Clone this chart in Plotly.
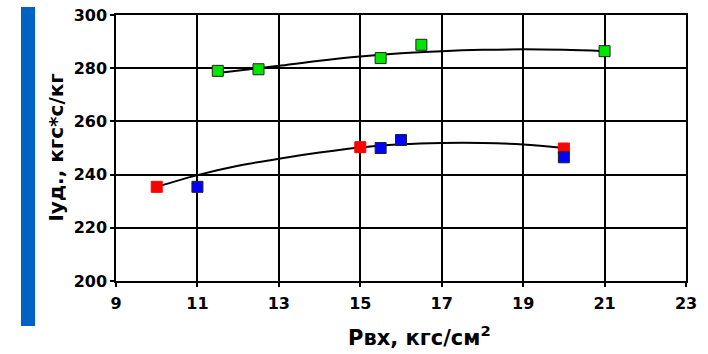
import plotly.graph_objects as go

# Data
green_x = [11.5, 12.5, 15.5, 16.5, 21.0]
green_y = [279.0, 279.6, 283.8, 288.8, 286.4]

red_x = [10.0, 15.0, 20.0]
red_y = [235.4, 250.3, 249.8]

blue_x = [11.0, 15.5, 16.0, 20.0]
blue_y = [235.4, 250.0, 253.0, 246.5]

# Trend curves
trend_low_x = [10, 11, 12, 13, 14, 15, 16, 17, 18, 19, 20]
trend_low_y = [235.4, 239.8, 243.3, 246.0, 248.3, 250.2, 251.4, 251.9, 251.9, 251.3, 250.0]

trend_high_x = [11.5, 12.5, 13, 14, 15, 16, 17, 18, 19, 20, 21]
trend_high_y = [278.2, 280.0, 280.9, 282.8, 284.4, 285.6, 286.4, 286.9, 287.1, 286.9, 286.4]

x_ticks = [9, 11, 13, 15, 17, 19, 21, 23]
y_ticks = [200, 220, 240, 260, 280, 300]

FONT = "DejaVu Sans"

fig = go.Figure()

fig.add_trace(go.Scatter(x=trend_low_x, y=trend_low_y, mode="lines",
                         line=dict(color="black", width=2, shape="spline"),
                         showlegend=False, hoverinfo="skip"))
fig.add_trace(go.Scatter(x=trend_high_x, y=trend_high_y, mode="lines",
                         line=dict(color="black", width=2, shape="spline"),
                         showlegend=False, hoverinfo="skip"))

fig.add_trace(go.Scatter(x=green_x, y=green_y, mode="markers",
                         marker=dict(symbol="square", size=11, color="#00E600",
                                     line=dict(color="#222222", width=1)),
                         showlegend=False))
fig.add_trace(go.Scatter(x=red_x, y=red_y, mode="markers",
                         marker=dict(symbol="square", size=11, color="#FF0000",
                                     line=dict(color="#FF0000", width=1)),
                         showlegend=False))
fig.add_trace(go.Scatter(x=blue_x, y=blue_y, mode="markers",
                         marker=dict(symbol="square", size=11, color="#0000FF",
                                     line=dict(color="#222222", width=1)),
                         showlegend=False))

axis_common = dict(
    showgrid=True, gridcolor="black", gridwidth=1.5,
    showline=True, linecolor="black", linewidth=1.5, mirror=True,
    ticks="outside", ticklen=4, tickcolor="black", tickwidth=1.5,
    zeroline=False, automargin=False,
    tickfont=dict(family=FONT, size=16, color="black", weight="bold"),
)

fig.update_layout(
    width=708, height=354,
    margin=dict(l=116, r=22, t=15, b=73),
    paper_bgcolor="white", plot_bgcolor="white",
    xaxis=dict(range=[9, 23], tickvals=x_ticks, ticktext=[str(v) for v in x_ticks],
               ticklabelstandoff=3, **axis_common),
    yaxis=dict(range=[200, 300], tickvals=y_ticks, ticktext=[str(v) for v in y_ticks],
               **axis_common),
    shapes=[dict(type="rect", xref="paper", yref="paper",
                 x0=-0.1667, x1=-0.142, y0=-0.169, y1=1.030,
                 fillcolor="#0062C4", line=dict(width=0), layer="above")],
    annotations=[
        dict(text="Iуд., кгс*с/кг", xref="paper", yref="paper",
             x=-0.106, y=0.5, textangle=-90, showarrow=False,
             xanchor="center", yanchor="middle",
             font=dict(family=FONT, size=20, color="black", weight="bold")),
        dict(text="Рвх, кгс/см<sup>2</sup>", xref="paper", yref="paper",
             x=0.532, y=-0.208, showarrow=False,
             xanchor="center", yanchor="middle",
             font=dict(family=FONT, size=21, color="black", weight="bold")),
    ],
)

fig.write_html("out.html", config={"displayModeBar": False},
               post_script="document.body.style.margin='0';document.body.style.padding='0';")
